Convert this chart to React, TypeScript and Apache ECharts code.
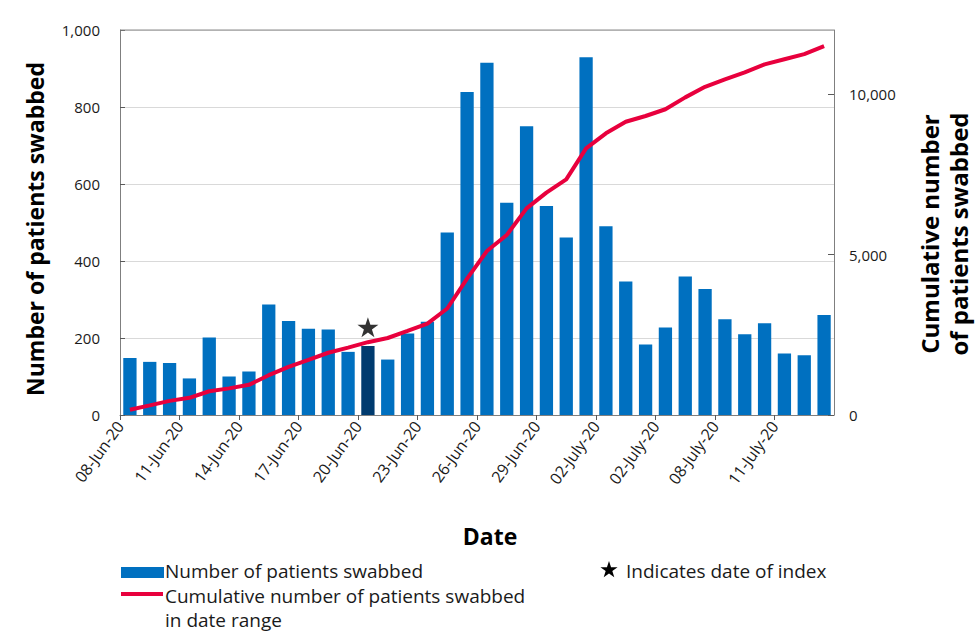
import React, { useEffect, useRef } from 'react';
import * as echarts from 'echarts';

const dates = [
  '08-Jun-20', '09-Jun-20', '10-Jun-20', '11-Jun-20', '12-Jun-20', '13-Jun-20', '14-Jun-20',
  '15-Jun-20', '16-Jun-20', '17-Jun-20', '18-Jun-20', '19-Jun-20', '20-Jun-20', '21-Jun-20',
  '22-Jun-20', '23-Jun-20', '24-Jun-20', '25-Jun-20', '26-Jun-20', '27-Jun-20', '28-Jun-20',
  '29-Jun-20', '30-Jun-20', '01-Jul-20', '02-Jul-20', '03-Jul-20', '04-Jul-20', '05-Jul-20',
  '06-Jul-20', '07-Jul-20', '08-Jul-20', '09-Jul-20', '10-Jul-20', '11-Jul-20', '12-Jul-20',
  '13-Jul-20',
];

const tickLabels = [
  '08-Jun-20', '11-Jun-20', '14-Jun-20', '17-Jun-20', '20-Jun-20', '23-Jun-20',
  '26-Jun-20', '29-Jun-20', '02-July-20', '02-July-20', '08-July-20', '11-July-20',
];

const swabbed = [
  148, 138, 135, 95, 201, 100, 113, 287, 244, 224, 222, 164, 179, 144, 212, 242, 474, 839,
  915, 551, 750, 543, 461, 929, 490, 347, 183, 227, 360, 327, 249, 210, 238, 160, 155, 260,
];

const cumulative = [
  165, 300, 440, 535, 740, 830, 940, 1240, 1500, 1720, 1940, 2100, 2270, 2400, 2620, 2850,
  3320, 4250, 5110, 5610, 6440, 6930, 7345, 8310, 8780, 9140, 9320, 9530, 9900, 10230, 10460,
  10680, 10930, 11090, 11250, 11500,
];

const indexDate = '20-Jun-20';
const starMarkerValue = 228;

const FONT = '"Open Sans", "Noto Sans", sans-serif';
const BLUE = '#0070C0';
const DARK_BLUE = '#003B6F';
const RED = '#E8003D';
const STAR_PATH =
  'path://M50 0 L61.23 34.55 L97.55 34.55 L68.16 55.9 L79.39 90.45 L50 69.1 L20.61 90.45 L31.84 55.9 L2.45 34.55 L38.77 34.55 Z';

function starPoints(cx: number, cy: number, R: number, r: number) {
  const pts: number[][] = [];
  for (let i = 0; i < 10; i++) {
    const a = -Math.PI / 2 + (i * Math.PI) / 5;
    const rad = i % 2 === 0 ? R : r;
    pts.push([cx + rad * Math.cos(a), cy + rad * Math.sin(a)]);
  }
  return pts;
}

const fmt = (v: number) => v.toLocaleString('en-US');

export default function App() {
  const ref = useRef<HTMLDivElement>(null);
  useEffect(() => {
    const chart = echarts.init(ref.current!, null, { renderer: 'svg' });
    const idx = dates.indexOf(indexDate);
    chart.setOption({
      animation: false,
      backgroundColor: '#ffffff',
      textStyle: { fontFamily: FONT },
      grid: { left: 120, right: 146, top: 30, bottom: 220, containLabel: false },
      xAxis: [
        {
          type: 'category',
          data: dates,
          boundaryGap: true,
          axisLine: { show: true, lineStyle: { color: '#7f7f7f', width: 1 } },
          axisTick: { show: false },
          axisLabel: { show: false },
          splitLine: { show: false },
        },
        {
          type: 'value',
          position: 'bottom',
          min: 0,
          max: dates.length,
          interval: 3,
          axisLine: { show: false },
          axisTick: { show: true, length: 5, lineStyle: { color: '#595959' } },
          splitLine: { show: false },
          axisLabel: {
            show: true,
            rotate: 54,
            margin: 8,
            fontSize: 16,
            color: '#1a1a1a',
            fontFamily: FONT,
            showMaxLabel: false,
            formatter: (v: number) => {
              const i = Math.round(v / 3);
              return v % 3 === 0 && i < tickLabels.length ? tickLabels[i] : '';
            },
          },
        },
      ],
      yAxis: [
        {
          type: 'value',
          min: 0,
          max: 1000,
          interval: 200,
          axisLine: { show: true, lineStyle: { color: '#7f7f7f' } },
          axisTick: { show: true, inside: true, length: 5, lineStyle: { color: '#595959' } },
          axisLabel: { fontSize: 15, color: '#1a1a1a', margin: 20, formatter: (v: number) => fmt(v), fontFamily: FONT },
          splitLine: { show: true, lineStyle: { color: '#d9d9d9', width: 1 } },
        },
        {
          type: 'value',
          position: 'right',
          min: 0,
          max: 12000,
          interval: 5000,
          axisLine: { show: true, lineStyle: { color: '#7f7f7f' } },
          axisTick: { show: true, inside: true, length: 6, lineStyle: { color: '#595959' } },
          axisLabel: {
            fontSize: 15,
            color: '#1a1a1a',
            margin: 15,
            showMaxLabel: false,
            fontFamily: FONT,
            formatter: (v: number) => (v % 5000 === 0 ? fmt(v) : ''),
          },
          splitLine: { show: false },
        },
      ],
      series: [
        {
          type: 'bar',
          name: 'Number of patients swabbed',
          xAxisIndex: 0,
          yAxisIndex: 0,
          barCategoryGap: '33%',
          data: swabbed.map((v, i) =>
            i === idx ? { value: v, itemStyle: { color: DARK_BLUE } } : v
          ),
          itemStyle: { color: BLUE },
          z: 2,
        },
        {
          type: 'line',
          name: 'Cumulative number of patients swabbed in date range',
          xAxisIndex: 0,
          yAxisIndex: 1,
          data: cumulative,
          symbol: 'none',
          lineStyle: { color: RED, width: 4 },
          itemStyle: { color: RED },
          z: 3,
        },
        {
          type: 'scatter',
          name: 'Indicates date of index',
          xAxisIndex: 0,
          yAxisIndex: 0,
          data: [[idx, starMarkerValue]],
          symbol: STAR_PATH,
          symbolSize: [21, 20],
          itemStyle: { color: '#000000' },
          z: 4,
        },
      ],
      graphic: [
        {
          type: 'line',
          shape: { x1: 120, y1: 30, x2: 834, y2: 30 },
          style: { stroke: '#8c8c8c', lineWidth: 1 },
          z: 50,
        },
        {
          type: 'text',
          x: 35,
          y: 229,
          rotation: Math.PI / 2,
          style: {
            text: 'Number of patients swabbed',
            font: `bold 23px ${FONT}`,
            fill: '#000',
            align: 'center',
            verticalAlign: 'middle',
          },
        },
        {
          type: 'text',
          x: 944,
          y: 234,
          rotation: Math.PI / 2,
          style: {
            text: 'Cumulative number\nof patients swabbed',
            font: `bold 24px ${FONT}`,
            lineHeight: 29,
            fill: '#000',
            align: 'center',
            verticalAlign: 'middle',
          },
        },
        {
          type: 'text',
          x: 490,
          y: 536,
          style: {
            text: 'Date',
            font: `bold 23px ${FONT}`,
            fill: '#000',
            align: 'center',
            verticalAlign: 'middle',
          },
        },
        {
          type: 'rect',
          shape: { x: 121, y: 567, width: 43, height: 11 },
          style: { fill: BLUE },
        },
        {
          type: 'text',
          x: 165,
          y: 571,
          style: {
            text: 'Number of patients swabbed',
            font: `19px ${FONT}`,
            lineHeight: 20,
            fill: '#1a1a1a',
            align: 'left',
            verticalAlign: 'middle',
          },
        },
        {
          type: 'line',
          shape: { x1: 121, y1: 594, x2: 163, y2: 594 },
          style: { stroke: RED, lineWidth: 4 },
        },
        {
          type: 'text',
          x: 165,
          y: 584,
          style: {
            text: 'Cumulative number of patients swabbed\nin date range',
            font: `19px ${FONT}`,
            lineHeight: 24,
            fill: '#1a1a1a',
            align: 'left',
            verticalAlign: 'top',
          },
        },
        {
          type: 'polygon',
          shape: { points: starPoints(609, 570, 9, 3.5) },
          style: { fill: '#000' },
        },
        {
          type: 'text',
          x: 626,
          y: 571,
          style: {
            text: 'Indicates date of index',
            font: `19px ${FONT}`,
            lineHeight: 20,
            fill: '#1a1a1a',
            align: 'left',
            verticalAlign: 'middle',
          },
        },
      ],
    });
    return () => chart.dispose();
  }, []);
  return (
    <div
      ref={ref}
      style={{ position: 'absolute', left: 0, top: 0, width: 980, height: 635, background: '#fff' }}
    />
  );
}
